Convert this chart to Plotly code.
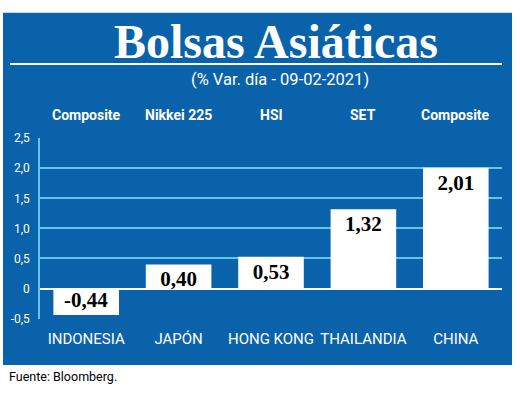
import plotly.graph_objects as go

W, H = 520, 397
countries = ["INDONESIA", "JAPÓN", "HONG KONG", "THAILANDIA", "CHINA"]
indices = ["Composite", "Nikkei 225", "HSI", "SET", "Composite"]
values = [-0.44, 0.40, 0.53, 1.32, 2.01]
value_labels = ["-0,44", "0,40", "0,53", "1,32", "2,01"]
tick_vals = [-0.5, 0, 0.5, 1.0, 1.5, 2.0, 2.5]
tick_text = ["-0,5", "0", "0,5", "1,0", "1,5", "2,0", "2,5"]

BLUE = "#0a62ab"
GRID = "#62c3ec"
COND = "Roboto, Liberation Sans, sans-serif"
SERIF = "Liberation Serif, Times New Roman, serif"

def px(x):
    return x / W

def py(y):
    return 1 - y / H

fig = go.Figure(go.Bar(
    x=countries, y=values, text=value_labels,
    textposition="inside", insidetextanchor="end", constraintext="none",
    textangle=0,
    textfont=dict(family=SERIF, size=21, color="black", weight="bold"),
    marker=dict(color="white", line=dict(width=0)),
    width=0.71, hoverinfo="skip",
))

fig.update_layout(
    width=W, height=H,
    margin=dict(l=0, r=0, t=0, b=0),
    paper_bgcolor="white", plot_bgcolor=BLUE,
    showlegend=False,
    xaxis=dict(domain=[px(40), px(502)], showgrid=False, showline=False, ticks="",
               ticklabelstandoff=9,
               tickfont=dict(family=COND, size=15, color="white"), fixedrange=True),
    yaxis=dict(domain=[py(323), py(136)], range=[-0.5, 2.5], tickvals=tick_vals, ticktext=tick_text,
               showgrid=True, gridcolor=GRID, gridwidth=1.5,
               zeroline=True, zerolinecolor="white", zerolinewidth=2,
               showline=True, linecolor=GRID, linewidth=1.5, ticks="",
               ticklabelstandoff=6,
               tickfont=dict(family=COND, size=12, color="white"), fixedrange=True),
    shapes=[
        dict(type="rect", xref="paper", yref="paper", x0=px(3), x1=px(512), y0=py(371), y1=py(6),
             fillcolor=BLUE, line=dict(width=0), layer="below"),
        dict(type="line", xref="paper", yref="paper", x0=px(10), x1=px(502), y0=py(59), y1=py(59),
             line=dict(color="white", width=2)),
    ],
    annotations=[
        dict(text="<b>Bolsas Asiáticas</b>", xref="paper", yref="paper", x=px(276), y=py(36),
             showarrow=False, xanchor="center", yanchor="middle",
             font=dict(family=SERIF, size=48, color="white")),
        dict(text="(% Var. día - 09-02-2021)", xref="paper", yref="paper", x=px(280), y=py(75),
             showarrow=False, xanchor="center", yanchor="middle",
             font=dict(family=COND, size=16.5, color="white")),
        dict(text="Fuente: Bloomberg.", xref="paper", yref="paper", x=px(7), y=py(383),
             showarrow=False, xanchor="left", yanchor="middle",
             font=dict(family=COND, size=12.5, color="black")),
    ] + [
        dict(text="<b>%s</b>" % lab, x=c, xref="x", yref="paper", y=py(112),
             showarrow=False, xanchor="center", yanchor="middle",
             font=dict(family=COND, size=14, color="white"))
        for c, lab in zip(countries, indices)
    ],
)

fig.write_html("out.html", config={"displayModeBar": False},
               post_script="document.body.style.margin='0';")
